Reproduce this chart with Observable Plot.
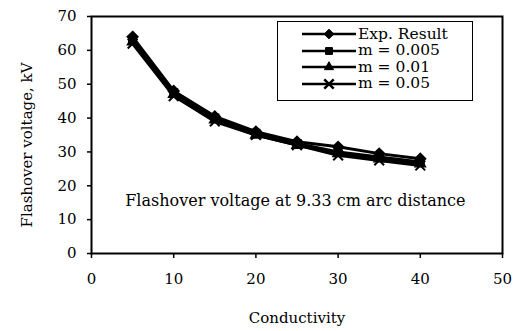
<!DOCTYPE html>
<html>
<head>
<meta charset="utf-8">
<script src="https://cdn.jsdelivr.net/npm/d3@7"></script>
<script src="https://cdn.jsdelivr.net/npm/@observablehq/plot@0.6"></script>
<style>
  html, body { margin: 0; padding: 0; background: #fff; }
  #wrap { position: relative; width: 515px; height: 331px; font-family: "DejaVu Serif", "Liberation Serif", serif; }
  #legend { position: absolute; left: 277px; top: 21px; width: 196px; height: 80px; border: 1.5px solid #000; background: #fff; box-sizing: border-box; }
  #legend .row { position: absolute; left: 0; height: 16px; display: flex; align-items: center; }
  #legend span { font-size: 15.5px; color: #000; margin-left: 2px; line-height: 15px; white-space: nowrap; }
</style>
</head>
<body>
<div id="wrap"><div id="chart"></div><div id="legend"></div></div>
<script>
const conductivity = [5, 10, 15, 20, 25, 30, 35, 40];
const seriesNames = ["Exp. Result", "m = 0.005", "m = 0.01", "m = 0.05"];
const expResult = [64, 48, 40.5, 36, 33, 31.5, 29.5, 28];
const m0005 = [63, 47.5, 40, 35.5, 32.5, 30, 28.5, 27];
const m001 = [62.5, 47, 39.5, 35, 32, 29.5, 28, 26.5];
const m005 = [62, 46.5, 39, 35, 32, 29, 27.5, 26];
const xTicks = [0, 10, 20, 30, 40, 50];
const yTicks = [0, 10, 20, 30, 40, 50, 60, 70];
const annotation = "Flashover voltage at 9.33 cm arc distance";
const symbols = ["diamond2", "square2", "triangle2", "times"];

const allValues = [expResult, m0005, m001, m005];
const data = [];
allValues.forEach((vals, i) => vals.forEach((v, j) => data.push({series: seriesNames[i], x: conductivity[j], y: v})));

const serif = "DejaVu Serif, Liberation Serif, serif";
const chart = Plot.plot({
  width: 515,
  height: 331,
  marginLeft: 91,
  marginRight: 13,
  marginTop: 16,
  marginBottom: 78,
  style: {fontFamily: serif, fontSize: "15px", color: "#000", background: "#fff"},
  x: {domain: [0, 50], ticks: xTicks, label: null},
  y: {domain: [0, 70], ticks: yTicks, label: null},
  symbol: {domain: seriesNames, range: symbols},
  marks: [
    Plot.frame({stroke: "#000", strokeWidth: 2}),
    Plot.axisX({ticks: xTicks, tickSize: 5, tickPadding: 15, fontSize: 15, tickFormat: d => d, strokeWidth: 1.5}),
    Plot.axisY({ticks: yTicks, tickSize: 4, tickPadding: 11, fontSize: 15, tickFormat: d => d, strokeWidth: 1.5}),
    Plot.text(["Conductivity"], {frameAnchor: "bottom", dy: 69, fontSize: 15, fontFamily: serif}),
    Plot.text(["Flashover voltage, kV"], {frameAnchor: "left", textAnchor: "middle", dx: -64, dy: 10, rotate: -90, fontSize: 15, fontFamily: serif}),
    Plot.line(data, {x: "x", y: "y", z: "series", stroke: "#000", strokeWidth: 3}),
    Plot.dot(data, {x: "x", y: "y", symbol: "series", fill: "#000", stroke: "#000", r: 4.5, strokeWidth: 2}),
    Plot.text([annotation], {x: [24.8], y: [15.5], fontSize: 16, fontFamily: serif, fill: "#000"})
  ]
});
document.getElementById("chart").appendChild(chart);

// legend
const legend = document.getElementById("legend");
const symScale = Plot.scale({symbol: {domain: seriesNames, range: symbols}});
seriesNames.forEach((name, i) => {
  const row = document.createElement("div");
  row.className = "row";
  row.style.top = (4 + i * 16.5) + "px";
  row.style.left = "24px";
  const sym = d3.symbol(symScale.apply(name), 60)();
  const isCross = symbols[i] === "times";
  row.innerHTML = `<svg width="54" height="16"><line x1="0" x2="54" y1="8" y2="8" stroke="#000" stroke-width="2.5"/>` +
    `<path transform="translate(27,8)" d="${sym}" fill="${isCross ? 'none' : '#000'}" stroke="#000" stroke-width="${isCross ? 2.5 : 1}"/></svg>` +
    `<span>${name}</span>`;
  legend.appendChild(row);
});
</script>
</body>
</html>
